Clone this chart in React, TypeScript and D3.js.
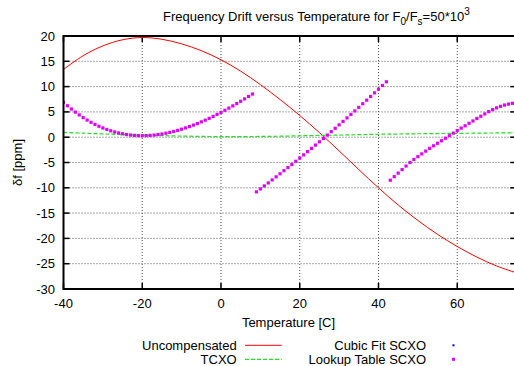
import React from "react";
import * as d3 from "d3";

// ---- data ----
const xTicks = [-40, -20, 0, 20, 40, 60];
const yTicks = [-30, -25, -20, -15, -10, -5, 0, 5, 10, 15, 20];

const coarseTemps = [-40, -35, -30, -25, -20, -15, -10, -5, 0, 5, 10, 15, 20, 25, 30, 35, 40, 45, 50, 55, 60, 65, 70, 75];
const uncompensated = [13.4, 16.1, 18.05, 19.25, 19.7, 19.35, 18.45, 17.1, 15.3, 13.05, 10.4, 7.45, 4.3, 0.9, -2.7, -6.4, -10.0, -13.4, -16.45, -19.2, -21.6, -23.7, -25.45, -26.8];
const tcxo = [0.95, 0.8, 0.65, 0.52, 0.4, 0.3, 0.22, 0.16, 0.12, 0.12, 0.15, 0.2, 0.28, 0.35, 0.42, 0.5, 0.58, 0.63, 0.68, 0.72, 0.76, 0.8, 0.84, 0.88];

// Lookup table SCXO, one point per degree
const lookupSeg1Start = -40;
const lookupSeg1 = [6.9, 6.21, 5.57, 4.96, 4.4, 3.87, 3.39, 2.94, 2.53, 2.16, 1.83, 1.53, 1.26, 1.03, 0.83, 0.67, 0.53, 0.43, 0.36, 0.31, 0.3, 0.31, 0.36, 0.42, 0.52, 0.63, 0.78, 0.94, 1.13, 1.34, 1.58, 1.83, 2.1, 2.39, 2.7, 3.03, 3.37, 3.73, 4.11, 4.5, 4.9, 5.32, 5.75, 6.19, 6.64, 7.1, 7.57, 8.05, 8.53];
const lookupSeg2Start = 9;
const lookupSeg2 = [-10.8, -10.22, -9.63, -9.04, -8.44, -7.84, -7.23, -6.62, -6.01, -5.39, -4.76, -4.13, -3.49, -2.85, -2.21, -1.56, -0.91, -0.25, 0.42, 1.09, 1.76, 2.44, 3.12, 3.81, 4.5, 5.2, 5.9, 6.61, 7.32, 8.04, 8.76, 9.49, 10.22, 10.95];
const lookupSeg3Start = 43;
const lookupSeg3 = [-8.5, -7.8, -7.1, -6.4, -5.7, -5.0, -4.4, -3.85, -3.3, -2.75, -2.2, -1.7, -1.2, -0.7, -0.2, 0.3, 0.8, 1.3, 1.8, 2.25, 2.75, 3.2, 3.7, 4.15, 4.6, 5.05, 5.45, 5.8, 6.1, 6.35, 6.55, 6.7, 6.85];

const FONT = "'Liberation Sans', Arial, Helvetica, sans-serif";

export default function App() {
  const W = 514, H = 366;
  const left = 63.5, right = 516.3, top = 36, bottom = 289;
  const x = d3.scaleLinear().domain([-40, 75]).range([left, right]);
  const y = d3.scaleLinear().domain([-30, 20]).range([bottom, top]);

  const line = d3.line<[number, number]>().x(d => x(d[0])).y(d => y(d[1])).curve(d3.curveCatmullRom.alpha(0.5));
  const redPath = line(coarseTemps.map((t, i) => [t, uncompensated[i]]))!;
  const greenPath = line(coarseTemps.map((t, i) => [t, tcxo[i]]))!;

  const pts: [number, number][] = [];
  lookupSeg1.forEach((v, i) => pts.push([lookupSeg1Start + i, v]));
  lookupSeg2.forEach((v, i) => pts.push([lookupSeg2Start + i, v]));
  lookupSeg3.forEach((v, i) => pts.push([lookupSeg3Start + i, v]));

  const pink = "#e000f8";
  const green = "#22e022";
  const gridStroke = "#555";

  return (
    <svg width={W} height={H} style={{ position: "absolute", left: 0, top: 0, background: "#fff" }} fontFamily={FONT}>
      <rect x={0} y={0} width={W} height={H} fill="#fff" />
      <defs>
        <clipPath id="plot">
          <rect x={left} y={top} width={right - left} height={bottom - top} />
        </clipPath>
      </defs>
      {/* grid */}
      {xTicks.filter(t => t !== -40).map(t => (
        <line key={"gx" + t} x1={x(t)} x2={x(t)} y1={top} y2={bottom} stroke={gridStroke} strokeWidth={1} strokeDasharray="1,2" />
      ))}
      {yTicks.filter(t => t !== -30 && t !== 20).map(t => (
        <line key={"gy" + t} x1={left} x2={right} y1={y(t)} y2={y(t)} stroke={gridStroke} strokeWidth={1} strokeDasharray="1,2" />
      ))}
      {/* ticks */}
      {xTicks.map(t => (
        <g key={"tx" + t}>
          <line x1={x(t)} x2={x(t)} y1={bottom} y2={bottom - 6} stroke="#000" strokeWidth={1.5} />
          <line x1={x(t)} x2={x(t)} y1={top} y2={top + 6} stroke="#000" strokeWidth={1.5} />
          <text x={x(t)} y={308} fontSize={13} textAnchor="middle">{t}</text>
        </g>
      ))}
      {yTicks.map(t => (
        <g key={"ty" + t}>
          <line x1={left} x2={left + 6} y1={y(t)} y2={y(t)} stroke="#000" strokeWidth={1.5} />
          <line x1={right} x2={right - 6} y1={y(t)} y2={y(t)} stroke="#000" strokeWidth={1.5} />
          <text x={55} y={y(t) + 4.5} fontSize={13} textAnchor="end">{t}</text>
        </g>
      ))}
      {/* data */}
      <g clipPath="url(#plot)">
        <path d={redPath} fill="none" stroke="#ff0000" strokeWidth={1} />
        <path d={greenPath} fill="none" stroke={green} strokeWidth={1.2} strokeDasharray="4,2" />
        {pts.map((p, i) => (
          <rect key={i} x={x(p[0]) - 1.6} y={y(p[1]) - 1.6} width={3.2} height={3.2} fill={pink} />
        ))}
      </g>
      {/* frame */}
      <rect x={left} y={top} width={right - left} height={bottom - top} fill="none" stroke="#000" strokeWidth={2} />
      {/* title */}
      <text x={163} y={20.5} fontSize={13}>
        Frequency Drift versus Temperature for F
        <tspan dy={4} fontSize={10}>0</tspan>
        <tspan dy={-4}>/F</tspan>
        <tspan dy={4} fontSize={10}>s</tspan>
        <tspan dy={-4}>=50*10</tspan>
        <tspan dy={-5.5} fontSize={10}>3</tspan>
      </text>
      {/* axis labels */}
      <text x={288.5} y={326.5} fontSize={13} textAnchor="middle">Temperature [C]</text>
      <text transform={`translate(21.5,${(top + bottom) / 2}) rotate(-90)`} fontSize={13} textAnchor="middle">δf [ppm]</text>
      {/* legend */}
      <text x={236.7} y={350} fontSize={13} textAnchor="end">Uncompensated</text>
      <line x1={245} x2={281.7} y1={345.3} y2={345.3} stroke="#ff0000" strokeWidth={1} />
      <text x={236.7} y={364} fontSize={13} textAnchor="end">TCXO</text>
      <line x1={245} x2={281.7} y1={359.3} y2={359.3} stroke={green} strokeWidth={1.2} strokeDasharray="4,2" />
      <text x={426} y={350} fontSize={13} textAnchor="end">Cubic Fit SCXO</text>
      <rect x={452.5} y={344.3} width={2} height={2} fill="#0000ff" />
      <text x={426} y={364} fontSize={13} textAnchor="end">Lookup Table SCXO</text>
      <rect x={452} y={357.8} width={3} height={3} fill={pink} />
    </svg>
  );
}
